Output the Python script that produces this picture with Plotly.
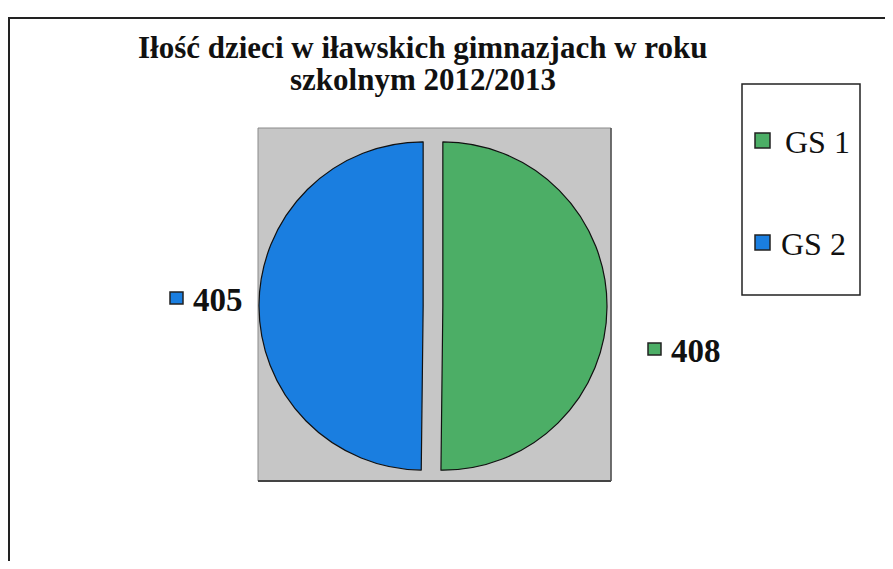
import plotly.graph_objects as go

W, H = 893, 569
OFF = 8  # default page body margin
FW, FH = W - 2 * OFF, H - 2 * OFF

title_lines = ["Iłość dzieci w iławskich gimnazjach w roku", "szkolnym 2012/2013"]
labels = ["GS 1", "GS 2"]
values = [408, 405]
colors = ["#4cae66", "#1a7ee0"]
pulls = [0.06, 0.06]


def px(x):
    return (x - OFF) / FW


def py(y):
    return 1 - (y - OFF) / FH


fig = go.Figure()
fig.add_trace(go.Pie(
    labels=labels,
    values=values,
    marker=dict(colors=colors, line=dict(color="#111111", width=1.2)),
    sort=False,
    direction="clockwise",
    rotation=0,
    pull=pulls,
    textinfo="none",
    hoverinfo="label+value",
    showlegend=False,
    domain=dict(x=[px(259), px(607)], y=[py(480), py(132)]),
))

shapes = []
# outer frame (top and left edges)
shapes.append(dict(type="line", xref="paper", yref="paper", x0=px(8), y0=py(18), x1=px(893), y1=py(18),
                   line=dict(color="#222222", width=2), layer="below"))
shapes.append(dict(type="line", xref="paper", yref="paper", x0=px(9), y0=py(18), x1=px(9), y1=py(569),
                   line=dict(color="#222222", width=2), layer="below"))
# gray plot area
shapes.append(dict(type="rect", xref="paper", yref="paper", x0=px(258), y0=py(481), x1=px(611), y1=py(128),
                   fillcolor="#c6c6c6", line=dict(color="#8a8a8a", width=1), layer="below"))
shapes.append(dict(type="line", xref="paper", yref="paper", x0=px(258), y0=py(481), x1=px(611), y1=py(481),
                   line=dict(color="#444444", width=2), layer="below"))
shapes.append(dict(type="line", xref="paper", yref="paper", x0=px(611), y0=py(128), x1=px(611), y1=py(481),
                   line=dict(color="#555555", width=1.5), layer="below"))
# legend box
shapes.append(dict(type="rect", xref="paper", yref="paper", x0=px(742), y0=py(295), x1=px(860), y1=py(84),
                   fillcolor="white", line=dict(color="#222222", width=1.5)))

annotations = []
for i, line in enumerate(title_lines):
    annotations.append(dict(text="<b>" + line + "</b>", xref="paper", yref="paper", x=px(423), y=py(48 + 31 * i),
                            xanchor="center", yanchor="middle", showarrow=False,
                            font=dict(family="Liberation Serif", size=31, color="#111111")))

# legend entries
leg_y = [140, 242]
leg_text_x = [783, 779]
for i in range(len(labels)):
    yc = leg_y[i]
    shapes.append(dict(type="rect", xref="paper", yref="paper", x0=px(755), y0=py(yc + 8), x1=px(770), y1=py(yc - 7),
                       fillcolor=colors[i], line=dict(color="#222222", width=1.5)))
    annotations.append(dict(text=labels[i], xref="paper", yref="paper", x=px(leg_text_x[i]), y=py(yc + 2),
                            xanchor="left", yanchor="middle", showarrow=False,
                            font=dict(family="Liberation Serif", size=32, color="#111111")))

# value labels next to pie
lab_pos = {0: (648, 349), 1: (170, 298)}
for i in range(len(values)):
    x0, yc = lab_pos[i]
    shapes.append(dict(type="rect", xref="paper", yref="paper", x0=px(x0), y0=py(yc + 6), x1=px(x0 + 13), y1=py(yc - 6),
                       fillcolor=colors[i], line=dict(color="#222222", width=1.5)))
    annotations.append(dict(text="<b>" + str(values[i]) + "</b>", xref="paper", yref="paper", x=px(x0 + 21), y=py(yc + 2),
                            xanchor="left", yanchor="middle", showarrow=False,
                            font=dict(family="Liberation Serif", size=33, color="#111111")))

fig.update_layout(
    width=FW, height=FH,
    margin=dict(l=0, r=0, t=0, b=0),
    paper_bgcolor="white",
    plot_bgcolor="white",
    shapes=shapes,
    annotations=annotations,
    showlegend=False,
)

fig.write_html("out.html")
